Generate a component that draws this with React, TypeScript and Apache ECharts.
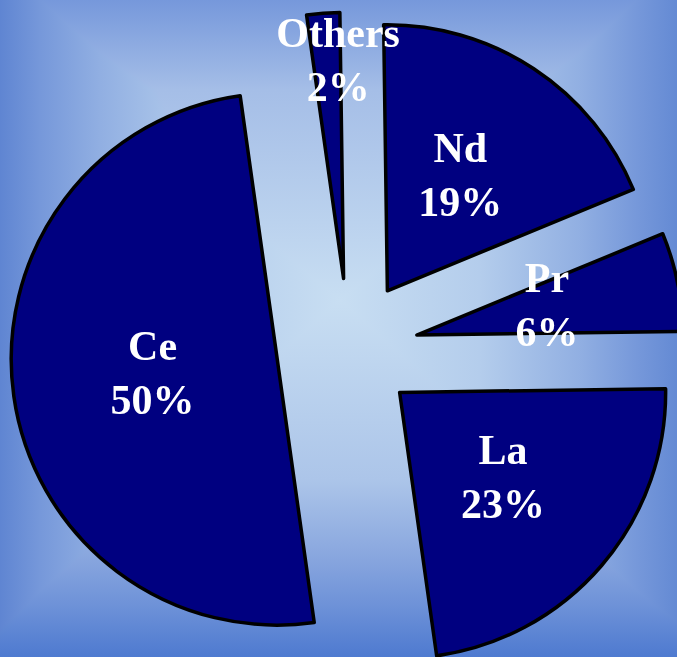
import React, { useEffect, useRef } from "react";
import * as echarts from "echarts";

// ---- data ----
const categories = ["Nd", "Pr", "La", "Ce", "Others"];
const shares = [19, 6, 23, 50, 2];

// ---- layout / style (not data) ----
const explode = [69.7, 69.2, 66.7, 72.5, 70.7];
const labelShift = [
  [-2, -2],
  [-3, -3],
  [0, -4],
  [10, -5],
  [5, -83],
];
const CX = 349;
const CY = 349;
const R = 266;
const START = 90.8;
const SLICE = "#000080";

const bgVertical =
  "linear-gradient(to bottom, rgb(118,152,219) 0px, rgb(165,190,231) 90px, rgb(200,222,242) 300px, rgb(172,197,233) 480px, rgb(135,165,222) 560px, rgb(110,146,216) 605px, rgb(78,122,208) 657px)";
const bgHorizontal =
  "linear-gradient(to right, rgb(95,133,210) 0px, rgb(118,152,218) 40px, rgb(145,175,226) 100px, rgb(180,205,236) 200px, rgb(200,222,242) 340px, rgb(180,205,236) 480px, rgb(145,175,226) 580px, rgb(118,152,218) 637px, rgb(100,138,212) 677px)";

export default function App() {
  const ref = useRef<HTMLDivElement>(null);

  useEffect(() => {
    if (!ref.current) return;
    const chart = echarts.init(ref.current, null, { renderer: "svg" });
    const total = shares.reduce((a, b) => a + b, 0);
    let cum = 0;
    const series = categories.map((name, k) => {
      const midFrac = (cum + shares[k] / 2) / total;
      cum += shares[k];
      const mid = ((START - midFrac * 360) * Math.PI) / 180;
      const cx = CX + explode[k] * Math.cos(mid);
      const cy = CY - explode[k] * Math.sin(mid);
      return {
        type: "pie",
        name,
        center: [cx, cy],
        radius: [0, R],
        startAngle: START,
        clockwise: true,
        avoidLabelOverlap: false,
        percentPrecision: 0,
        silent: true,
        emphasis: { disabled: true },
        labelLine: { show: false },
        labelLayout: { dx: labelShift[k][0], dy: labelShift[k][1] },
        data: categories.map((n, i) => ({
          name: n,
          value: shares[i],
          itemStyle:
            i === k
              ? {
                  color: SLICE,
                  borderColor: "#000000",
                  borderWidth: 3.5,
                  borderJoin: "round",
                }
              : { color: "rgba(0,0,0,0)", borderWidth: 0 },
          label:
            i === k
              ? {
                  show: true,
                  position: "inside",
                  formatter: "{b}\n{d}%",
                  color: "#ffffff",
                  fontFamily: "'Liberation Serif', 'Times New Roman', serif",
                  fontWeight: "bold",
                  fontSize: 42,
                  lineHeight: 54,
                  align: "center",
                  verticalAlign: "middle",
                }
              : { show: false },
        })),
      };
    });

    chart.setOption({
      animation: false,
      backgroundColor: "transparent",
      series,
    } as any);

    return () => chart.dispose();
  }, []);

  return (
    <div
      style={{
        position: "fixed",
        left: 0,
        top: 0,
        width: 677,
        height: 657,
        backgroundColor: "#ffffff",
        backgroundImage: `${bgVertical}, ${bgHorizontal}`,
        backgroundBlendMode: "darken",
      }}
    >
      <div ref={ref} style={{ width: 677, height: 657 }} />
    </div>
  );
}
